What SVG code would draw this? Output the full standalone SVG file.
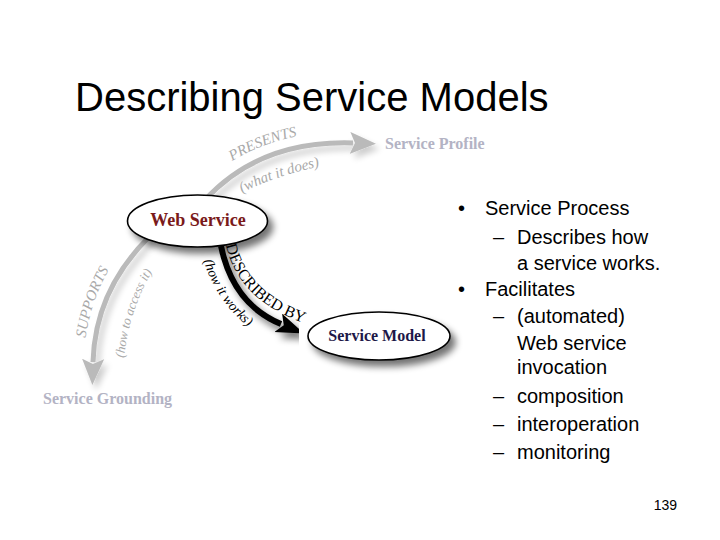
<svg xmlns="http://www.w3.org/2000/svg" width="720" height="540" viewBox="0 0 720 540">
  <style>
    .title { font-family: "Liberation Sans", Arial, sans-serif; font-size: 40px; fill: #000; }
    .body { font-family: "Liberation Sans", Arial, sans-serif; font-size: 20px; fill: #000; }
    .pg { font-family: "Liberation Sans", Arial, sans-serif; font-size: 14px; fill: #000; }
    .node { fill: #fff; stroke: #000; stroke-width: 1.6; }
    .nlabel { font-family: "Liberation Serif", "Times New Roman", serif; font-weight: bold; text-anchor: middle; }
    .faint { font-family: "Liberation Serif", "Times New Roman", serif; font-weight: bold; font-size: 16px; fill: #b3b3c4; }
    .garc { fill: none; stroke: #bababa; stroke-width: 5; }
    .barc { fill: none; stroke: #000; stroke-width: 6; }
    .glab { font-family: "Liberation Serif", "Times New Roman", serif; font-style: italic; fill: #a9a9a9; }
    .blab { font-family: "Liberation Serif", "Times New Roman", serif; fill: #000; }
  </style>
  <defs>
    <filter id="shadow" x="-30%" y="-30%" width="160%" height="180%">
      <feGaussianBlur in="SourceAlpha" stdDeviation="3.5"/>
      <feOffset dx="5" dy="6" result="b"/>
      <feComponentTransfer><feFuncA type="linear" slope="0.55"/></feComponentTransfer>
      <feMerge><feMergeNode/><feMergeNode in="SourceGraphic"/></feMerge>
    </filter>
    <filter id="softshadow" x="-30%" y="-30%" width="160%" height="160%">
      <feGaussianBlur in="SourceAlpha" stdDeviation="3"/>
      <feOffset dx="4" dy="5" result="b"/>
      <feComponentTransfer><feFuncA type="linear" slope="0.2"/></feComponentTransfer>
      <feMerge><feMergeNode/><feMergeNode in="SourceGraphic"/></feMerge>
    </filter>
    <marker id="ahGray" markerUnits="userSpaceOnUse" markerWidth="28" markerHeight="24" refX="3" refY="11" orient="auto">
      <path d="M0,0 L26,11 L0,22 L5,11 z" fill="#bababa"/>
    </marker>
    <marker id="ahBlack" markerUnits="userSpaceOnUse" markerWidth="30" markerHeight="22" refX="3" refY="10" orient="auto">
      <path d="M0,0 L28,10 L0,20 L6,10 z" fill="#000"/>
    </marker>
    <path id="pPresents" d="M 232 161 Q 262 143 302 135"/>
    <path id="pWhat" d="M 242 193 Q 274 176 322 166"/>
    <path id="pSupports" d="M 85 342 Q 91 295 116 259"/>
    <path id="pAccess" d="M 124 358 Q 130 305 156 266"/>
    <path id="pDescribed" d="M 226 245 Q 238 300 304 323"/>
    <path id="pWorks" d="M 201 251 Q 217 316 278 345"/>
  </defs>

  <rect width="720" height="540" fill="#fff"/>

  <text class="title" x="75" y="111">Describing Service Models</text>

  <g id="connectors">
    <g filter="url(#softshadow)">
      <path id="edge-presents" class="garc" d="M 205 200 Q 260 140 353 143" marker-end="url(#ahGray)"/>
      <path id="edge-supports" class="garc" d="M 150 236 Q 95 290 93 362" marker-end="url(#ahGray)"/>
    </g>
    <path id="edge-described" class="barc" d="M 221 246 Q 233 304 281 324" marker-end="url(#ahBlack)" filter="url(#shadow)"/>
  </g>

  <g id="edge-labels">
    <text class="glab" font-size="15"><textPath href="#pPresents">PRESENTS</textPath></text>
    <text class="glab" font-size="15"><textPath href="#pWhat">(what it does)</textPath></text>
    <text class="glab" font-size="15"><textPath href="#pSupports" startOffset="4">SUPPORTS</textPath></text>
    <text class="glab" font-size="13"><textPath href="#pAccess">(how to access it)</textPath></text>
    <text class="blab" font-size="16"><textPath href="#pDescribed">DESCRIBED BY</textPath></text>
    <text class="blab" font-size="14" font-style="italic"><textPath href="#pWorks" startOffset="10">(how it works)</textPath></text>
  </g>

  <g id="node-web-service">
    <ellipse class="node" cx="197.5" cy="221" rx="70" ry="26" filter="url(#shadow)"/>
    <text class="nlabel" x="198" y="226" font-size="18" fill="#7a1a1a">Web Service</text>
  </g>

  <g id="node-service-model">
    <ellipse class="node" cx="379" cy="336" rx="71" ry="24" filter="url(#shadow)"/>
    <text class="nlabel" x="377" y="341" font-size="16" fill="#1e1848">Service Model</text>
  </g>

  <g id="node-service-profile">
    <text class="faint" x="385" y="149">Service Profile</text>
  </g>

  <g id="node-service-grounding">
    <text class="faint" x="43" y="404">Service Grounding</text>
  </g>

  <g id="bullets">
    <text class="body" x="458" y="215">•</text>
    <text class="body" x="485" y="215">Service Process</text>
    <text class="body" x="493" y="244">–</text>
    <text class="body" x="517" y="244">Describes how</text>
    <text class="body" x="517" y="270">a service works.</text>
    <text class="body" x="458" y="296">•</text>
    <text class="body" x="485" y="296">Facilitates</text>
    <text class="body" x="493" y="323">–</text>
    <text class="body" x="517" y="323">(automated)</text>
    <text class="body" x="517" y="350">Web service</text>
    <text class="body" x="517" y="374">invocation</text>
    <text class="body" x="493" y="403">–</text>
    <text class="body" x="517" y="403">composition</text>
    <text class="body" x="493" y="431">–</text>
    <text class="body" x="517" y="431">interoperation</text>
    <text class="body" x="493" y="459">–</text>
    <text class="body" x="517" y="459">monitoring</text>
  </g>

  <text class="pg" x="677" y="510" text-anchor="end">139</text>
</svg>
